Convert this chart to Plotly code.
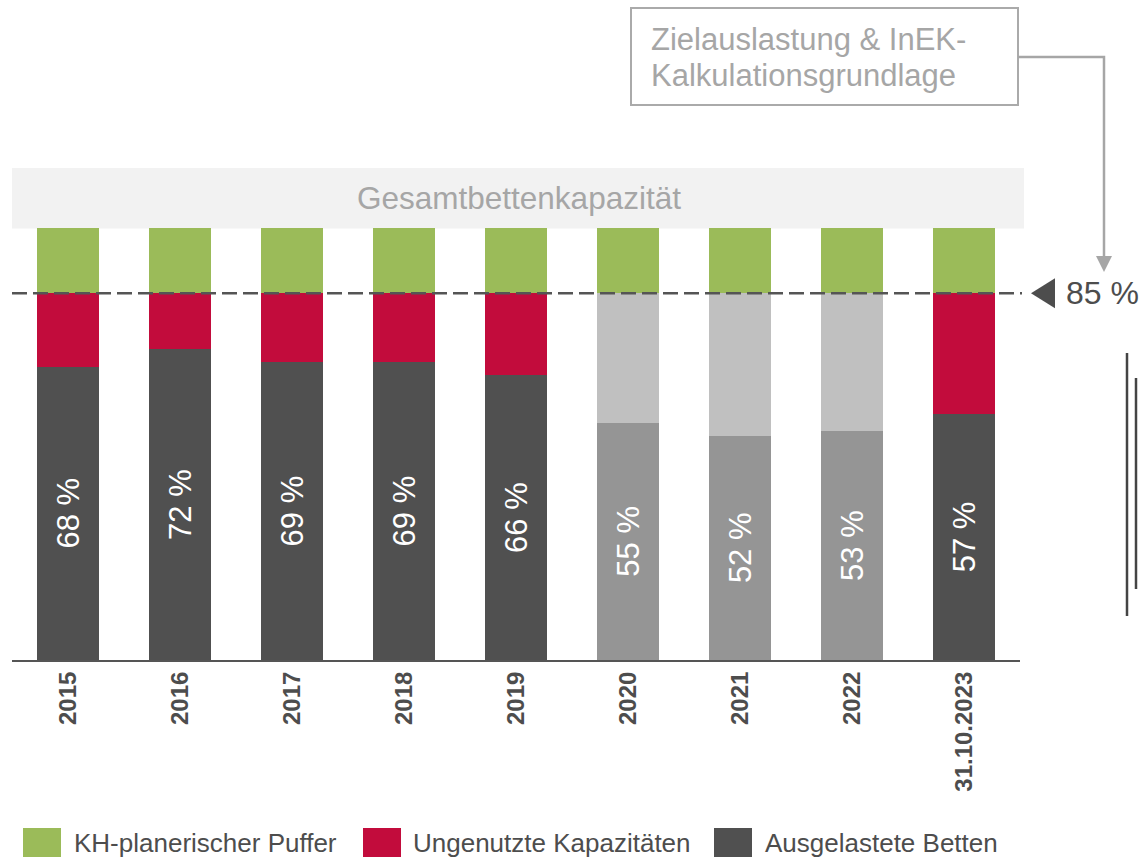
import plotly.graph_objects as go

# ---- data ----
categories = ["2015", "2016", "2017", "2018", "2019", "2020", "2021", "2022", "31.10.2023"]
utilized = [68, 72, 69, 69, 66, 55, 52, 53, 57]          # Ausgelastete Betten (%)
target = 85                                              # Zielauslastung (%)
total = 100                                              # Gesamtbettenkapazität (%)
unused = [target - u for u in utilized]                  # Ungenutzte Kapazitäten
buffer = [total - target for _ in utilized]              # KH-planerischer Puffer
greyed = [False, False, False, False, False, True, True, True, False]

GREEN = "#9bbb59"
RED = "#c20c3c"
DARK = "#505050"
GREY_DARK = "#959595"
GREY_LIGHT = "#c0c0c0"
TXT_GREY = "#a6a6a6"
FONT = "Liberation Sans, Arial, sans-serif"

W, H = 1143, 859
L, R, T, B = 12, 1020, 168, 660


def px(x):
    return (x - L) / (R - L)


def py(y):
    return (B - y) / (B - T)


util_colors = [GREY_DARK if g else DARK for g in greyed]
unused_colors = [GREY_LIGHT if g else RED for g in greyed]

fig = go.Figure()
fig.add_trace(go.Bar(
    x=categories, y=utilized, name="Ausgelastete Betten",
    marker=dict(color=util_colors, line=dict(width=0)),
    text=[f"{u} %" for u in utilized], textposition="inside",
    textangle=-90, insidetextanchor="middle",
    textfont=dict(family=FONT, size=31, color="white"),
    showlegend=False,
))
fig.add_trace(go.Bar(
    x=categories, y=unused, name="Ungenutzte Kapazitäten",
    marker=dict(color=unused_colors, line=dict(width=0)), showlegend=False,
))
fig.add_trace(go.Bar(
    x=categories, y=buffer, name="KH-planerischer Puffer",
    marker=dict(color=GREEN, line=dict(width=0)), showlegend=False,
))

shapes = []
annotations = []

# capacity band above the bars
shapes.append(dict(type="rect", xref="paper", yref="y", x0=0, x1=px(1024),
                   y0=total, y1=114, fillcolor="#f2f2f2", line=dict(width=0), layer="below"))
annotations.append(dict(text="Gesamtbettenkapazität", xref="paper", yref="y",
                        x=px(519), y=(total + 114) / 2, showarrow=False,
                        font=dict(family=FONT, size=31.5, color=TXT_GREY)))

# 85 % dashed line
shapes.append(dict(type="line", xref="paper", yref="y", x0=0, x1=px(1022),
                   y0=target, y1=target, line=dict(color="#555555", width=2.5, dash="15px,6px"),
                   layer="above"))
# triangle marker and label
tri_h = 15 / ((B - T) / 114)
shapes.append(dict(type="path", xref="paper", yref="y",
                   path=f"M {px(1031)} {target} L {px(1055)} {target + tri_h} L {px(1055)} {target - tri_h} Z",
                   fillcolor="#4d4d4d", line=dict(width=0)))
annotations.append(dict(text="85 %", xref="paper", yref="y", x=px(1064), y=target,
                        xanchor="left", yanchor="middle", showarrow=False,
                        font=dict(family=FONT, size=32, color="#4d4d4d")))

# annotation box
shapes.append(dict(type="rect", xref="paper", yref="paper", x0=px(631), x1=px(1018),
                   y0=py(105), y1=py(8), line=dict(color="#aaaaaa", width=2), fillcolor="rgba(0,0,0,0)"))
for line_text, cy in (("Zielauslastung & InEK-", 40), ("Kalkulationsgrundlage", 76)):
    annotations.append(dict(text=line_text, xref="paper", yref="paper",
                            x=px(649), y=py(cy), xanchor="left", yanchor="middle", align="left",
                            showarrow=False, font=dict(family=FONT, size=31, color=TXT_GREY)))
# connector with arrowhead
shapes.append(dict(type="path", xref="paper", yref="paper",
                   path=f"M {px(1018)} {py(57)} L {px(1104)} {py(57)} L {px(1104)} {py(258)}",
                   line=dict(color=TXT_GREY, width=2.5)))
shapes.append(dict(type="path", xref="paper", yref="paper",
                   path=f"M {px(1096)} {py(256)} L {px(1112)} {py(256)} L {px(1104)} {py(272)} Z",
                   fillcolor=TXT_GREY, line=dict(width=0)))

# double vertical lines at right
shapes.append(dict(type="line", xref="paper", yref="paper", x0=px(1127), x1=px(1127),
                   y0=py(353), y1=py(616), line=dict(color="#444444", width=2.5)))
shapes.append(dict(type="line", xref="paper", yref="paper", x0=px(1136), x1=px(1136),
                   y0=py(378), y1=py(589), line=dict(color="#444444", width=2.5)))

# manual legend
legend_items = [("KH-planerischer Puffer", GREEN, 23, 72),
                ("Ungenutzte Kapazitäten", RED, 363, 411),
                ("Ausgelastete Betten", DARK, 714, 763)]
for name, col, sx, tx in legend_items:
    shapes.append(dict(type="rect", xref="paper", yref="paper", x0=px(sx), x1=px(sx + 38),
                       y0=py(857), y1=py(828), fillcolor=col, line=dict(width=0)))
    annotations.append(dict(text=name, xref="paper", yref="paper", x=px(tx), y=py(843),
                            xanchor="left", yanchor="middle", showarrow=False,
                            font=dict(family=FONT, size=26, color="#4d4d4d")))

fig.update_layout(
    width=W, height=H,
    margin=dict(l=L, r=W - R, t=T, b=H - B, pad=0),
    paper_bgcolor="white", plot_bgcolor="white",
    barmode="stack", bargap=1 - 62 / 112,
    shapes=shapes, annotations=annotations,
    showlegend=False,
    font=dict(family=FONT),
)
fig.update_xaxes(type="category", range=[-0.5, len(categories) - 0.5],
                 showline=True, linecolor="#555555", linewidth=2,
                 ticks="", tickangle=-90, showgrid=False, zeroline=False,
                 ticklabelstandoff=0,
                 tickfont=dict(family=FONT, size=24, color="#4d4d4d", weight="bold"))
fig.update_yaxes(range=[0, 114], visible=False, showgrid=False, zeroline=False)

fig.write_html("out.html", config={"displayModeBar": False},
               post_script="document.body.style.margin='0';document.body.style.overflow='hidden';")
